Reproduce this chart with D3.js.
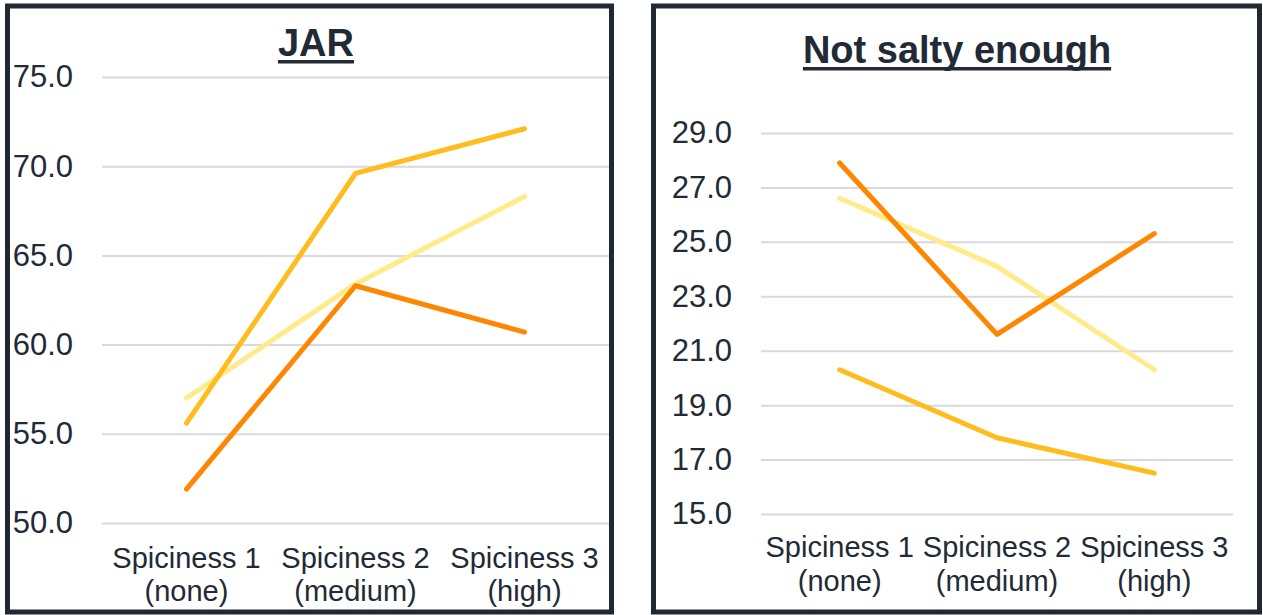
<!DOCTYPE html>
<html>
<head>
<meta charset="utf-8">
<script src="https://cdn.jsdelivr.net/npm/d3@7"></script>
<style>
  html, body { margin: 0; padding: 0; background: #ffffff; }
  svg { display: block; font-family: "Liberation Sans", Arial, sans-serif; }
</style>
</head>
<body>
<svg id="chart" width="1263" height="615"></svg>
<script>
// ---- data ----
const categories = ["Spiciness 1", "Spiciness 2", "Spiciness 3"];
const categorySub = ["(none)", "(medium)", "(high)"];

const jarTicks = [50, 55, 60, 65, 70, 75];
const jarOrange = [51.9, 63.3, 60.7];
const jarAmber = [55.6, 69.6, 72.1];
const jarLight = [57.0, 63.4, 68.3];

const saltTicks = [15, 17, 19, 21, 23, 25, 27, 29];
const saltOrange = [27.9, 21.6, 25.3];
const saltAmber = [20.3, 17.8, 16.5];
const saltLight = [26.6, 24.1, 20.3];

const seriesColors = { orange: "#ff8600", amber: "#ffbc1c", light: "#ffeb8a" };
const textColor = "#222a35";
const borderColor = "#212833";

const svg = d3.select("#chart");

function panel(cfg) {
  const g = svg.append("g");
  // frame
  g.append("rect")
    .attr("x", cfg.frame[0]).attr("y", cfg.frame[1])
    .attr("width", cfg.frame[2]).attr("height", cfg.frame[3])
    .attr("fill", "#fff").attr("stroke", borderColor).attr("stroke-width", 5);

  const x = d3.scaleBand().domain(categories).range(cfg.xRange);
  const y = d3.scaleLinear().domain(cfg.yDomain).range(cfg.yRange);

  // y axis with gridlines
  const ax = g.append("g")
    .attr("transform", `translate(${cfg.xRange[0]},0)`)
    .call(d3.axisLeft(y).tickValues(cfg.ticks).tickFormat(d3.format(".1f"))
      .tickSize(-(cfg.xRange[1] - cfg.xRange[0])).tickPadding(cfg.tickPad));
  ax.select(".domain").remove();
  ax.selectAll(".tick line").attr("stroke", "#d9d9d9").attr("stroke-width", 2);
  ax.selectAll(".tick text").attr("fill", textColor).style("font-size", "31px")
    .style("font-family", "'Liberation Sans', Arial, sans-serif");

  // category labels
  const cx = c => x(c) + x.bandwidth() / 2;
  g.selectAll(".cat1").data(categories).enter().append("text")
    .attr("x", cx).attr("y", cfg.labY[0]).attr("text-anchor", "middle")
    .attr("fill", textColor).style("font-size", "29px").text(d => d);
  g.selectAll(".cat2").data(categorySub).enter().append("text")
    .attr("x", (d, i) => cx(categories[i])).attr("y", cfg.labY[1]).attr("text-anchor", "middle")
    .attr("fill", textColor).style("font-size", "29px").text(d => d);

  // lines
  const line = d3.line().x((d, i) => cx(categories[i])).y(d => y(d));
  cfg.series.forEach(s => {
    g.append("path").datum(s.values)
      .attr("d", line).attr("fill", "none")
      .attr("stroke", s.color).attr("stroke-width", 5)
      .attr("stroke-linecap", "round").attr("stroke-linejoin", "round");
  });

  // title (bold, underlined)
  const t = g.append("text")
    .attr("x", cfg.titleX).attr("y", cfg.titleY).attr("text-anchor", "middle")
    .attr("fill", textColor).style("font-size", "38px").style("font-weight", "bold")
    .text(cfg.title);
  const w = t.node().getComputedTextLength();
  g.append("rect")
    .attr("x", cfg.titleX - w / 2).attr("y", cfg.titleY + 4)
    .attr("width", w).attr("height", 3.5).attr("fill", textColor);
}

panel({
  frame: [7.5, 6, 604, 606],
  xRange: [102, 609], yDomain: [50, 75], yRange: [523, 77], ticks: jarTicks, tickPad: 29,
  labY: [568, 601], title: "JAR", titleX: 316, titleY: 56,
  series: [
    { values: jarLight, color: seriesColors.light },
    { values: jarAmber, color: seriesColors.amber },
    { values: jarOrange, color: seriesColors.orange }
  ]
});

panel({
  frame: [653.5, 6, 606, 606],
  xRange: [761, 1233], yDomain: [15, 29], yRange: [514, 133], ticks: saltTicks, tickPad: 29,
  labY: [557, 591], title: "Not salty enough", titleX: 957, titleY: 63,
  series: [
    { values: saltLight, color: seriesColors.light },
    { values: saltAmber, color: seriesColors.amber },
    { values: saltOrange, color: seriesColors.orange }
  ]
});
</script>
</body>
</html>
